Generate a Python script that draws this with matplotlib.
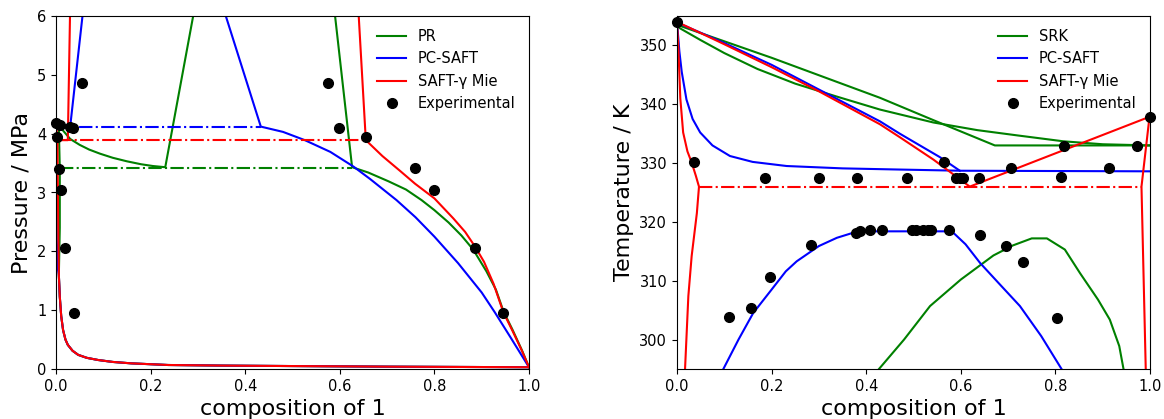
import numpy as np
import matplotlib.pyplot as plt

# ---------------- left panel : P-x ----------------
# experimental points
x_exp_P = [0.0, 0.003, 0.008, 0.029, 0.036, 0.056, 0.0063, 0.011, 0.02, 0.038,
           0.575, 0.598, 0.655, 0.758, 0.80, 0.886, 0.946]
P_exp = [4.18, 3.95, 4.15, 4.12, 4.09, 4.86, 3.40, 3.05, 2.05, 0.96,
         4.86, 4.09, 3.95, 3.41, 3.05, 2.05, 0.96]

# vapour branches (near x = 0, all three models)
x_low = [0.006, 0.008, 0.011, 0.015, 0.02, 0.025, 0.035, 0.047, 0.065, 0.089,
         0.12, 0.159, 0.237, 0.35, 0.5, 0.7, 1.0]
P_low = [1.6, 1.23, 0.9, 0.66, 0.5, 0.41, 0.31, 0.24, 0.19, 0.153,
         0.12, 0.096, 0.068, 0.058, 0.05, 0.04, 0.03]

pr_dew_x = [0.0, 0.006, 0.008, 0.008] + x_low
pr_dew_P = [4.2, 4.1, 3.4, 2.4] + P_low
pc_dew_x = [0.0, 0.0007, 0.0015, 0.004] + x_low
pc_dew_P = [4.2, 3.0, 2.2, 1.7] + P_low
saft_dew_x = [0.0, 0.003, 0.004, 0.005] + x_low
saft_dew_P = [4.2, 3.9, 3.0, 2.2] + P_low

# PR
pr_bub_x = [0.0, 0.011, 0.03, 0.05, 0.07, 0.093, 0.12, 0.15, 0.18, 0.205, 0.231, 0.29, 0.313]
pr_bub_P = [4.2, 4.09, 3.91, 3.81, 3.73, 3.66, 3.59, 3.53, 3.48, 3.45, 3.43, 6.0, 7.0]
pr_liq_x = [0.576, 0.59, 0.626, 0.66, 0.703, 0.74, 0.773, 0.8, 0.83, 0.857, 0.882, 0.91,
            0.93, 0.946, 0.965, 0.985, 1.0]
pr_liq_P = [7.0, 6.0, 3.43, 3.34, 3.19, 3.05, 2.87, 2.7, 2.49, 2.27, 2.03, 1.66,
            1.35, 0.98, 0.67, 0.32, 0.03]
pr_3ph_x = [0.008, 0.626]
pr_3ph_P = [3.42, 3.42]

# PC-SAFT
pc_bub_x = [0.0, 0.01, 0.03, 0.056, 0.068]
pc_bub_P = [4.2, 4.15, 4.12, 6.0, 7.0]
pc_liq_x = [0.319, 0.359, 0.433, 0.48, 0.526, 0.58, 0.629, 0.664, 0.72, 0.76, 0.8, 0.85,
            0.9, 0.928, 0.96, 1.0]
pc_liq_P = [7.0, 6.0, 4.12, 4.03, 3.89, 3.69, 3.44, 3.23, 2.87, 2.58, 2.25, 1.8,
            1.3, 0.96, 0.55, 0.03]
pc_3ph_x = [0.003, 0.433]
pc_3ph_P = [4.12, 4.12]

# SAFT-gamma Mie
saft_bub_x = [0.004, 0.025, 0.0296, 0.031]
saft_bub_P = [3.89, 3.89, 6.0, 7.0]
saft_liq_x = [0.635, 0.64, 0.655, 0.69, 0.727, 0.759, 0.8, 0.84, 0.865, 0.886, 0.905,
              0.925, 0.946, 0.965, 0.985, 1.0]
saft_liq_P = [7.0, 6.0, 3.89, 3.62, 3.37, 3.15, 2.9, 2.56, 2.33, 2.08, 1.82,
              1.45, 0.96, 0.65, 0.31, 0.03]
saft_3ph_x = [0.004, 0.655]
saft_3ph_P = [3.89, 3.89]

# ---------------- right panel : T-x ----------------
x_exp_T = [0.0, 0.036, 0.185, 0.3, 0.381, 0.486, 0.564, 0.590, 0.598, 0.605, 0.638,
           0.706, 0.811, 0.819, 0.914, 0.973, 0.999,
           0.109, 0.156, 0.197, 0.283, 0.378, 0.387, 0.408, 0.433, 0.496, 0.505,
           0.521, 0.530, 0.538, 0.574, 0.641, 0.695, 0.732, 0.803]
T_exp = [354.0, 330.2, 327.5, 327.5, 327.5, 327.5, 330.2, 327.5, 327.5, 327.5, 327.5,
         329.1, 327.6, 332.9, 329.1, 332.9, 337.9,
         303.8, 305.4, 310.7, 316.0, 318.2, 318.4, 318.6, 318.7, 318.7, 318.7,
         318.7, 318.7, 318.7, 318.6, 317.7, 315.9, 313.2, 303.6]

# SRK
srk_a_x = [0.0, 0.2, 0.429, 0.545, 0.672, 1.0]
srk_a_T = [353.5, 347.9, 341.1, 337.2, 333.0, 333.0]
srk_b_x = [0.0, 0.05, 0.1, 0.17, 0.25, 0.338, 0.429, 0.542, 0.635, 0.72, 0.817, 0.9, 1.0]
srk_b_T = [353.2, 350.9, 348.7, 346.0, 343.5, 341.3, 339.1, 336.9, 335.6, 334.7, 333.7, 333.2, 333.0]
srk_lle_x = [0.427, 0.48, 0.535, 0.6, 0.669, 0.71, 0.75, 0.782, 0.82, 0.852, 0.89, 0.915,
             0.935, 0.944]
srk_lle_T = [295.0, 300.0, 305.7, 310.2, 314.3, 316.0, 317.2, 317.2, 315.3, 311.3, 306.8, 303.4,
             298.9, 295.0]

# PC-SAFT
pcT_a_x = [0.0, 0.1, 0.2, 0.3, 0.429, 0.471, 0.556, 0.598]
pcT_a_T = [353.9, 350.4, 346.7, 342.5, 337.1, 335.0, 331.0, 328.7]
pcT_b_x = [0.0, 0.005, 0.01, 0.02, 0.033, 0.049, 0.075, 0.112, 0.16, 0.232, 0.35, 0.471, 0.6, 1.0]
pcT_b_T = [354.0, 349.0, 345.5, 340.8, 337.5, 335.2, 333.0, 331.2, 330.2, 329.5, 329.1, 328.9, 328.7, 328.6]
pcT_lle_x = [0.098, 0.13, 0.161, 0.2, 0.23, 0.253, 0.3, 0.338, 0.37, 0.394, 0.581, 0.61, 0.641,
             0.68, 0.725, 0.77, 0.813]
pcT_lle_T = [295.0, 300.0, 304.5, 308.5, 311.6, 313.3, 315.9, 317.3, 318.1, 318.4, 318.4, 316.2, 313.0,
             309.6, 305.7, 300.6, 295.0]

# SAFT-gamma Mie
saftT_a_x = [0.0, 0.1, 0.2, 0.3, 0.429, 0.471, 0.542, 0.619, 1.0]
saftT_a_T = [354.0, 350.2, 346.3, 342.2, 336.6, 334.4, 330.6, 326.0, 337.9]
saftT_b_x = [0.0, 0.003, 0.007, 0.013, 0.022, 0.031, 0.04, 0.045, 0.0465, 0.042, 0.031, 0.024, 0.017, 0.015]
saftT_b_T = [354.0, 349.3, 341.0, 335.2, 332.0, 330.1, 327.8, 326.4, 326.0, 321.5, 314.2, 307.4, 295.0, 292.0]
saftT_c_x = [0.999, 0.982, 0.991, 0.992]
saftT_c_T = [337.9, 326.0, 295.0, 292.0]
saftT_3ph_x = [0.0465, 0.982]
saftT_3ph_T = [326.0, 326.0]

fig = plt.figure(figsize=(11.64, 4.19), dpi=100)
ax1 = fig.add_axes([56/1164, 50/419, 473/1164, 353/419])
ax2 = fig.add_axes([677/1164, 50/419, 473/1164, 353/419])

# left
ax1.plot(pr_dew_x, pr_dew_P, 'g', label='PR')
ax1.plot(pr_bub_x, pr_bub_P, 'g')
ax1.plot(pr_liq_x, pr_liq_P, 'g')
ax1.plot(pr_3ph_x, pr_3ph_P, 'g-.')
ax1.plot(pc_dew_x, pc_dew_P, 'b', label='PC-SAFT')
ax1.plot(pc_bub_x, pc_bub_P, 'b')
ax1.plot(pc_liq_x, pc_liq_P, 'b')
ax1.plot(pc_3ph_x, pc_3ph_P, 'b-.')
ax1.plot(saft_dew_x, saft_dew_P, 'r', label='SAFT-γ Mie')
ax1.plot(saft_bub_x, saft_bub_P, 'r')
ax1.plot(saft_liq_x, saft_liq_P, 'r')
ax1.plot(saft_3ph_x, saft_3ph_P, 'r-.')
ax1.plot(x_exp_P, P_exp, 'ko', markersize=7, label='Experimental', clip_on=False)
ax1.set_xlim(0, 1)
ax1.set_ylim(0, 6)
ax1.set_xlabel('composition of 1', fontsize=16)
ax1.set_ylabel('Pressure / MPa', fontsize=16)
ax1.tick_params(labelsize=10.5)
ax1.legend(loc='upper right', frameon=False, fontsize=10.5)

# right
ax2.plot(srk_a_x, srk_a_T, 'g', label='SRK')
ax2.plot(srk_b_x, srk_b_T, 'g')
ax2.plot(srk_lle_x, srk_lle_T, 'g')
ax2.plot(pcT_a_x, pcT_a_T, 'b', label='PC-SAFT')
ax2.plot(pcT_b_x, pcT_b_T, 'b')
ax2.plot(pcT_lle_x, pcT_lle_T, 'b')
ax2.plot(saftT_a_x, saftT_a_T, 'r', label='SAFT-γ Mie')
ax2.plot(saftT_b_x, saftT_b_T, 'r')
ax2.plot(saftT_c_x, saftT_c_T, 'r')
ax2.plot(saftT_3ph_x, saftT_3ph_T, 'r-.')
ax2.plot(x_exp_T, T_exp, 'ko', markersize=7, label='Experimental', clip_on=False)
ax2.set_xlim(0, 1)
ax2.set_ylim(295, 355)
ax2.set_xlabel('composition of 1', fontsize=16)
ax2.set_ylabel('Temperature / K', fontsize=16)
ax2.tick_params(labelsize=10.5)
ax2.legend(loc='upper right', frameon=False, fontsize=10.5)

plt.savefig('out.png', dpi=100)
